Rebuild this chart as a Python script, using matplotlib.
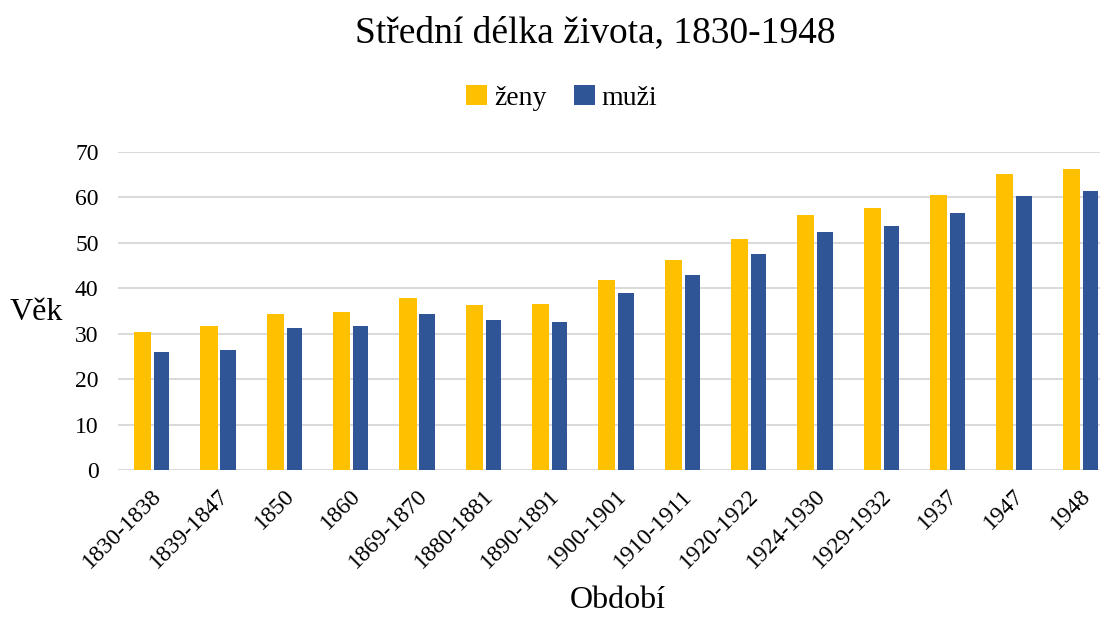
import matplotlib.pyplot as plt
import numpy as np

plt.rcParams['font.family'] = ['Liberation Serif', 'DejaVu Serif']

# obdobi a stredni delka zivota
obdobi = ['1830-1838', '1839-1847', '1850', '1860', '1869-1870', '1880-1881',
          '1890-1891', '1900-1901', '1910-1911', '1920-1922', '1924-1930',
          '1929-1932', '1937', '1947', '1948']
zeny = [30.4, 31.8, 34.3, 34.7, 37.8, 36.4, 36.6, 41.9, 46.3, 50.8, 56.2, 57.6, 60.6, 65.2, 66.3]
muzi = [25.9, 26.5, 31.3, 31.8, 34.4, 33.0, 32.6, 38.9, 42.8, 47.5, 52.3, 53.6, 56.5, 60.2, 61.4]

fig = plt.figure(figsize=(11.03, 6.17), dpi=100)
ax = fig.add_axes([0.107, 0.238, 0.890, 0.516])

x = np.arange(len(obdobi))
ax.bar(x - 0.13, zeny, 0.26, color='#FFC000', label='ženy', zorder=3)
ax.bar(x + 0.16, muzi, 0.23, color='#2F5597', label='muži', zorder=3)

ax.set_xlim(-0.5, len(obdobi) - 0.7)
ax.set_ylim(0, 70)
ax.set_yticks(range(0, 71, 10))
ax.grid(axis='y', color='#d9d9d9', linewidth=1.4, zorder=0)
for s in ['top', 'right', 'left', 'bottom']:
    ax.spines[s].set_visible(False)
ax.tick_params(length=0, labelsize=17)
ax.tick_params(axis='y', pad=14)
ax.tick_params(axis='x', pad=11)
ax.set_xticks(x)
ax.set_xticklabels(obdobi, rotation=45, ha='right', rotation_mode='anchor')

ax.set_ylabel('Věk', fontsize=23, rotation=0, va='center', ha='center')
ax.yaxis.set_label_coords(-0.083, 0.494)
ax.set_xlabel('Období', fontsize=23)
ax.xaxis.set_label_coords(0.509, -0.365)
fig.text(0.54, 1 - 33 / 617, 'Střední délka života, 1830-1948', fontsize=27,
         ha='center', va='center')
ax.legend(loc='center', bbox_to_anchor=(0.452, 1.17), ncol=2, frameon=False,
          fontsize=20, handlelength=0.75, handleheight=0.75, columnspacing=1.0,
          handletextpad=0.25)

fig.savefig('out.png', dpi=100)
